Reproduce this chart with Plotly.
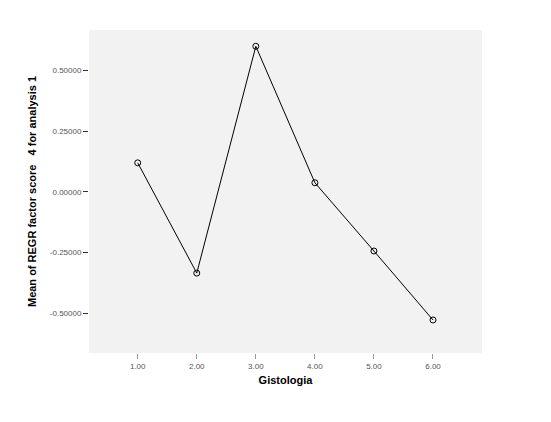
import plotly.graph_objects as go

categories = [1, 2, 3, 4, 5, 6]
tick_labels = ["1.00", "2.00", "3.00", "4.00", "5.00", "6.00"]
means = [0.119, -0.335, 0.599, 0.037, -0.244, -0.528]
y_ticks = [0.5, 0.25, 0.0, -0.25, -0.5]
y_tick_labels = ["0.50000", "0.25000", "0.00000", "-0.25000", "-0.50000"]

fig = go.Figure()
fig.add_trace(go.Scatter(
    x=categories, y=means, mode="lines+markers",
    line=dict(color="black", width=1),
    marker=dict(symbol="circle-open", size=6, color="black", line=dict(width=1)),
    showlegend=False,
))

font = "Liberation Sans, Arial, sans-serif"
fig.update_layout(
    width=551, height=422,
    margin=dict(l=81, r=77, t=22, b=77),
    paper_bgcolor="white",
    plot_bgcolor="#f2f2f2",
    font=dict(family=font, color="#333333"),
    xaxis=dict(
        range=[0.175, 6.83], tickvals=categories, ticktext=tick_labels,
        showgrid=False, zeroline=False, ticks="outside", ticklen=5,
        tickcolor="#999999", tickfont=dict(size=8, color="#555555"),
        title=dict(text="<b>Gistologia</b>", font=dict(size=11, color="black"), standoff=6),
    ),
    yaxis=dict(
        range=[-0.664, 0.666], tickvals=y_ticks, ticktext=y_tick_labels,
        showgrid=False, zeroline=False, ticks="outside", ticklen=5,
        tickcolor="#333333", tickfont=dict(size=8, color="#555555"),
        title=dict(text="<b>Mean of REGR factor score   4 for analysis 1</b>",
                   font=dict(size=11, color="black"), standoff=10),
    ),
)

fig.write_html("out.html")
